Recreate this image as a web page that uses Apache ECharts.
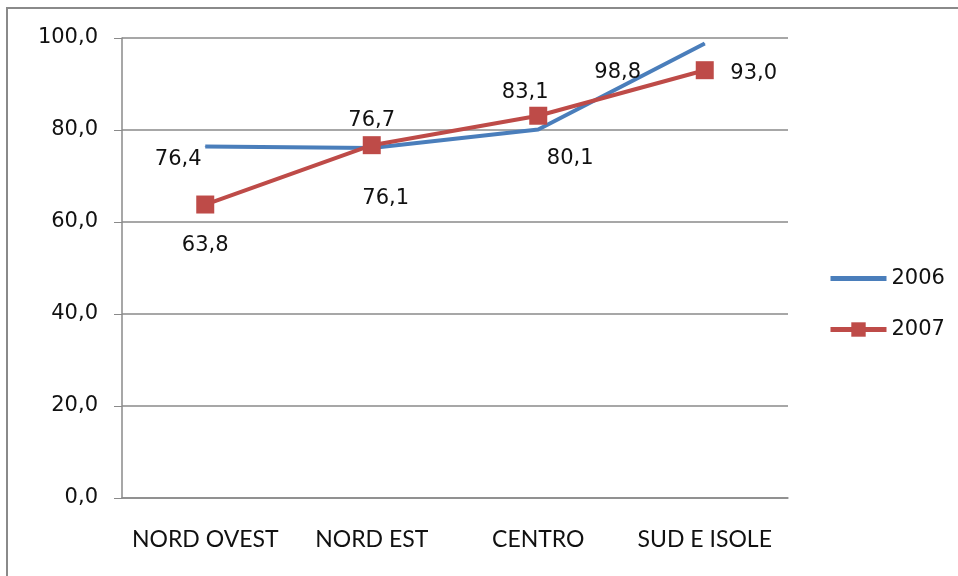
<!DOCTYPE html>
<html lang="it">
<head>
    <meta charset="UTF-8">
    <title>Grafico</title>
    <style>
        body,html{
            width: 958px;
            height: 576px;
            margin: 0;
            overflow: hidden;
            background: #fff;
        }
        #frame{
            position: absolute;
            left: 6px;
            top: 7px;
            width: 1000px;
            height: 1000px;
            border: 2px solid #8a8a8a;
        }
        #chart{
            position: absolute;
            left: 0;
            top: 0;
            width: 958px;
            height: 576px;
        }
    </style>
</head>
<body>
<div id="frame"></div>
<div id="chart"></div>

<script src="https://cdn.jsdelivr.net/npm/echarts@6/dist/echarts.min.js"></script>
<script type="text/javascript">

    // dati
    let categories = ['NORD OVEST', 'NORD EST', 'CENTRO', 'SUD E ISOLE'];
    let values2006 = [76.4, 76.1, 80.1, 98.8];
    let values2007 = [63.8, 76.7, 83.1, 93.0];
    let seriesNames = ['2006', '2007'];

    // spostamento delle etichette come nel grafico originale
    let offsets2006 = [[-27, 13], [14, 51], [32, 29], [-87, 29]];
    let offsets2007 = [[0, 41], [0, -25], [-13, -23], [49, 3]];

    let numFont = 'DejaVu Sans';
    let catFont = 'Lato';

    function fmt(v) {
        return v.toFixed(1).replace('.', ',');
    }

    function buildData(values, offsets) {
        return values.map(function (v, i) {
            return {
                value: v,
                label: {offset: offsets[i]}
            };
        });
    }

    let myChart = echarts.init(document.getElementById('chart'));
    let option = {
        animation: false,
        grid: {
            left: 122,
            right: 170,
            top: 38,
            bottom: 78
        },
        legend: {
            orient: 'vertical',
            left: 823,
            top: 263,
            itemWidth: 56,
            itemHeight: 18,
            itemGap: 30,
            lineStyle: {width: 5},
            textStyle: {
                fontFamily: numFont,
                fontSize: 21,
                color: '#111'
            },
            data: [
                {name: seriesNames[0], itemStyle: {opacity: 0}},
                {name: seriesNames[1]}
            ]
        },
        xAxis: {
            type: 'category',
            data: categories,
            boundaryGap: true,
            axisLine: {lineStyle: {color: '#8a8a8a', width: 1.5}},
            axisTick: {length: 8, lineStyle: {color: '#8a8a8a'}},
            axisLabel: {
                interval: 0,
                fontFamily: catFont,
                fontSize: 23,
                color: '#111',
                margin: 30
            }
        },
        yAxis: {
            type: 'value',
            min: 0,
            max: 100,
            interval: 20,
            axisLine: {show: true, lineStyle: {color: '#8a8a8a', width: 1.5}},
            axisTick: {show: true, length: 8, lineStyle: {color: '#8a8a8a'}},
            splitLine: {lineStyle: {color: '#8a8a8a', width: 1.5}},
            axisLabel: {
                fontFamily: numFont,
                fontSize: 21,
                color: '#111',
                margin: 24,
                formatter: function (v) { return fmt(v); }
            }
        },
        series: [
            {
                name: seriesNames[0],
                type: 'line',
                data: buildData(values2006, offsets2006),
                symbol: 'circle',
                symbolSize: 1,
                lineStyle: {color: '#4a7ebb', width: 4},
                itemStyle: {color: '#4a7ebb'},
                label: {
                    show: true,
                    position: 'inside',
                    fontFamily: numFont,
                    fontSize: 21,
                    color: '#111',
                    formatter: function (p) { return fmt(p.value); }
                },
                z: 2
            },
            {
                name: seriesNames[1],
                type: 'line',
                data: buildData(values2007, offsets2007),
                symbol: 'rect',
                symbolSize: 18,
                lineStyle: {color: '#be4b48', width: 4},
                itemStyle: {color: '#be4b48'},
                label: {
                    show: true,
                    position: 'inside',
                    fontFamily: numFont,
                    fontSize: 21,
                    color: '#111',
                    formatter: function (p) { return fmt(p.value); }
                },
                z: 3
            }
        ]
    };
    myChart.setOption(option);
</script>
</body>
</html>
